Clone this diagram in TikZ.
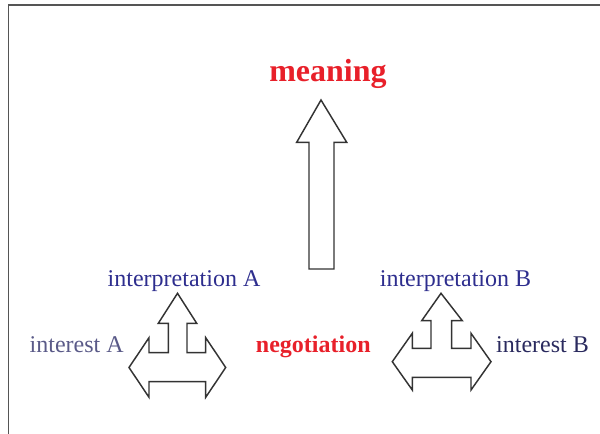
\documentclass[tikz,border=0pt]{standalone}
\usepackage{fontspec}
\setmainfont{Liberation Serif}
\definecolor{redtxt}{HTML}{E8202A}
\definecolor{bluetxt}{HTML}{2E2E8E}
\definecolor{greytxt}{HTML}{5A5A88}
\definecolor{navytxt}{HTML}{2A2A5E}
\definecolor{outline}{HTML}{333333}
\definecolor{framec}{HTML}{555555}
\tikzset{
  blockarrow/.style={draw=outline, line width=1.1pt, fill=white, line join=miter},
  lbl/.style={anchor=base, inner sep=0pt, font=\fontsize{18}{20}\selectfont},
  boldlbl/.style={lbl, font=\fontsize{18}{20}\selectfont\bfseries, text=redtxt},
}
\begin{document}
\begin{tikzpicture}[x=0.75pt,y=-0.75pt]
\useasboundingbox (0,0) rectangle (600,434);
% frame
\draw[framec, line width=1.2pt] (8.5,434) -- (8.5,5) -- (600,5);
% big arrow
\draw[blockarrow] (321,100) -- (346.7,142.3) -- (334,142.3) -- (334,269) -- (309,269) -- (309,142.3) -- (296.7,142.3) -- cycle;
% left T arrow
\draw[blockarrow] (177.5,293.3) -- (196.7,323.3) -- (187,323.3) -- (187,352.7) -- (205.7,352.7) -- (205.7,337.7) -- (225.7,367.5) -- (205.7,397.3) -- (205.7,381.7) -- (149,381.7) -- (149,397.3) -- (129,367.5) -- (149,337.7) -- (149,352.7) -- (168.3,352.7) -- (168.3,323.3) -- (158.3,323.3) -- cycle;
% right T arrow
\draw[blockarrow] (441,293.3) -- (462.3,320.7) -- (451.7,320.7) -- (451.7,348.3) -- (471,348.3) -- (471,333.3) -- (491,361.7) -- (471,390) -- (471,377.3) -- (412.3,377.3) -- (412.3,390) -- (392.3,361.7) -- (412.3,333.3) -- (412.3,348.3) -- (431,348.3) -- (431,320.7) -- (421.7,320.7) -- cycle;
% labels
\node[lbl, font=\fontsize{24}{28}\selectfont\bfseries, text=redtxt] (meaning) at (328,82) {meaning};
\node[lbl, text=bluetxt] (intA) at (184,286.5) {interpretation A};
\node[lbl, text=bluetxt] (intB) at (455.5,286.5) {interpretation B};
\node[lbl, text=greytxt] (interestA) at (76.7,353) {interest A};
\node[boldlbl] (negotiation) at (313.3,353) {negotiation};
\node[lbl, text=navytxt] (interestB) at (542.5,353) {interest B};
\end{tikzpicture}
\end{document}
